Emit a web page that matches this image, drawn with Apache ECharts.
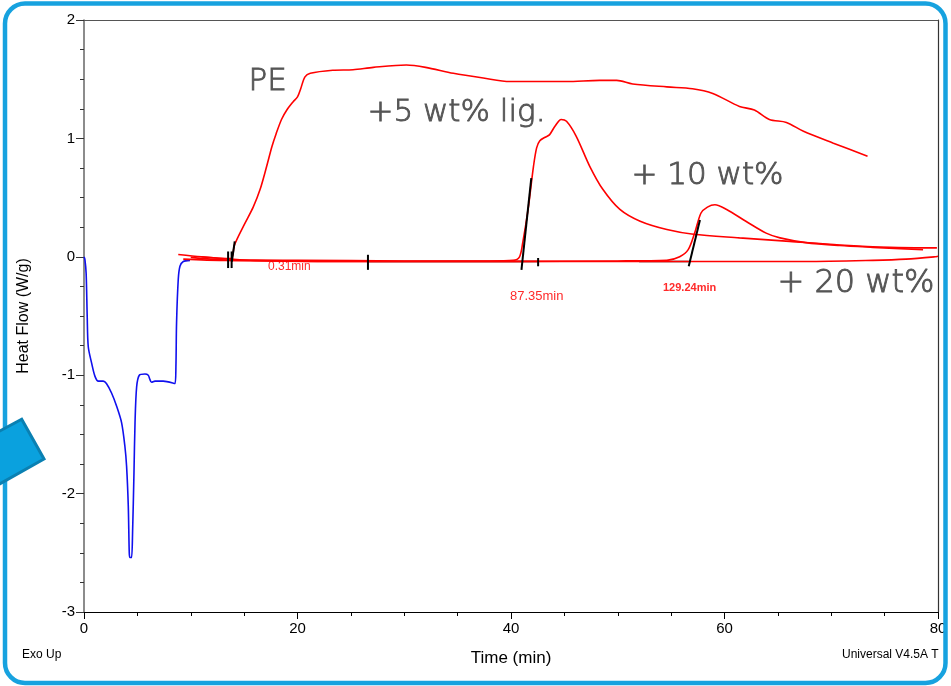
<!DOCTYPE html>
<html>
<head>
<meta charset="utf-8">
<script src="https://cdn.jsdelivr.net/npm/echarts@6/dist/echarts.min.js"></script>
<style>
html,body{margin:0;padding:0;background:#fff;}
#chart{width:951px;height:686px;}
</style>
</head>
<body>
<div id="chart"></div>
<script>
// ---- data (Time in min, Heat Flow in W/g) ----
var xTicks = [0, 20, 40, 60, 80];
var yTicks = [-3, -2, -1, 0, 1, 2];

var blueCurve = [[0,0],[0.08,-0.02],[0.2,-0.14],[0.3,-0.5],[0.4,-0.76],[0.72,-0.9],[1.03,-1.01],[1.34,-1.05],[1.8,-1.05],[2.1,-1.07],[2.58,-1.15],[3.05,-1.26],[3.52,-1.4],[3.83,-1.6],[3.99,-1.77],[4.15,-2.11],[4.24,-2.5],[4.3,-2.54],[4.45,-2.54],[4.55,-2.33],[4.68,-1.83],[4.78,-1.4],[4.93,-1.1],[5.18,-1.0],[5.71,-0.99],[6.02,-1.0],[6.15,-1.03],[6.33,-1.06],[6.65,-1.05],[7.42,-1.05],[8.52,-1.07],[8.61,-0.93],[8.67,-0.56],[8.83,-0.19],[8.99,-0.08],[9.3,-0.04],[9.93,-0.03]];

var peCurve = [[8.83,0.02],[11,0.0],[13.5,-0.015],[13.85,-0.01],[14.1,0.1],[15.0,0.27],[15.85,0.42],[16.5,0.57],[17.1,0.76],[17.6,0.93],[18.0,1.04],[18.5,1.16],[19.0,1.24],[19.6,1.31],[20.0,1.35],[20.3,1.42],[20.7,1.52],[21.2,1.55],[23.3,1.575],[25.2,1.58],[27.1,1.60],[30.2,1.62],[32.0,1.60],[34.6,1.55],[37.4,1.51],[39.9,1.48],[42.0,1.48],[45.2,1.48],[48.3,1.49],[49.9,1.49],[51.4,1.46],[54.6,1.435],[57.0,1.42],[58.9,1.38],[61.4,1.27],[62.8,1.24],[64.2,1.16],[65.8,1.135],[67.4,1.06],[70.2,0.96],[73.4,0.85]];

var lig5Curve = [[9.3,-0.02],[13,-0.03],[20,-0.03],[30,-0.035],[38,-0.035],[40.2,-0.03],[40.8,0.0],[41.1,0.12],[41.6,0.40],[42.1,0.76],[42.4,0.92],[42.7,0.98],[43.2,1.01],[43.6,1.03],[44.1,1.10],[44.7,1.16],[45.2,1.145],[46.1,1.02],[47.4,0.76],[48.6,0.57],[50.2,0.40],[52.1,0.30],[54.6,0.23],[57.1,0.19],[61.4,0.16],[66.1,0.13],[70.8,0.10],[75.5,0.08],[79.9,0.075]];

var lig10Curve = [[10,-0.005],[14,-0.03],[30,-0.04],[50,-0.035],[54.6,-0.03],[55.8,0.0],[56.6,0.06],[57.2,0.2],[57.8,0.37],[58.4,0.42],[59.1,0.44],[60.2,0.40],[62.0,0.30],[63.9,0.20],[65.2,0.16],[67.6,0.12],[70.8,0.095],[73.9,0.08],[78.6,0.06]];

var lig20Curve = [[11,0.0],[16,-0.03],[30,-0.04],[52,-0.04],[67.6,-0.04],[73.9,-0.03],[77,-0.02],[79.7,0.0],[80,0.005]];

var baselineSegments = [[[26.6,-0.04],[42.5,-0.04]], [[52,-0.04],[56.65,-0.04]]];
var tangentSegments = [[[13.85,-0.04],[14.12,0.13]], [[40.98,-0.11],[41.9,0.665]], [[56.65,-0.08],[57.7,0.31]]];
var tickMarks = [[[13.5,0.045],[13.5,-0.095]], [[13.83,0.045],[13.83,-0.095]], [[26.6,0.017],[26.6,-0.11]], [[42.54,-0.01],[42.54,-0.08]]];

var onsetLabels = ['0.31min', '87.35min', '129.24min'];
var curveLabels = ['PE', '+5 wt% lig.', '+ 10 wt%', '+ 20 wt%'];

// ---- chart ----
var chart = echarts.init(document.getElementById('chart'), null, {renderer: 'canvas'});

function seg(data, color, width, z) {
  return {type: 'line', data: data, symbol: 'none', silent: true, z: z,
    lineStyle: {color: color, width: width}, xAxisIndex: 0, yAxisIndex: 0};
}
function curve(data, color) {
  return {type: 'line', data: data, symbol: 'none', silent: true, smooth: 0.3, z: 3,
    lineStyle: {color: color, width: 1.6}, xAxisIndex: 0, yAxisIndex: 0};
}

var series = [];
baselineSegments.forEach(function (s) { series.push(seg(s, '#111', 1.6, 2)); });
series.push(curve(blueCurve, '#1010ee'));
series.push(curve(peCurve, '#ff0000'));
series.push(curve(lig5Curve, '#ff0000'));
series.push(curve(lig10Curve, '#ff0000'));
series.push(curve(lig20Curve, '#ff0000'));
tangentSegments.forEach(function (s) { series.push(seg(s, '#000', 2, 4)); });
tickMarks.forEach(function (s) { series.push(seg(s, '#000', 2, 4)); });

var tickFont = {color: '#000', fontSize: 15, fontFamily: 'Liberation Sans'};
function ann(text, left, top, size) {
  return {type: 'text', left: left, top: top, z: 10,
    style: {text: text, fill: '#555', fontSize: size, fontWeight: 300, fontFamily: 'DejaVu Sans',
      stroke: '#555', lineWidth: 0.9}};
}

var option = {
  animation: false,
  backgroundColor: '#fff',
  grid: {left: 84, right: 13, top: 20, bottom: 74, containLabel: false},
  xAxis: [{
    type: 'value', min: 0, max: 80, interval: 20,
    name: 'Time (min)', nameLocation: 'middle', nameGap: 38,
    nameTextStyle: {color: '#000', fontSize: 17, fontFamily: 'Liberation Sans'},
    axisLine: {show: true, onZero: false, lineStyle: {color: '#000', width: 1.2}},
    axisTick: {show: true, inside: false, length: 7, lineStyle: {color: '#000'}},
    minorTick: {show: true, splitNumber: 4, length: 4, lineStyle: {color: '#000'}},
    axisLabel: Object.assign({margin: 9, formatter: function (v) { return xTicks.indexOf(v) >= 0 ? String(v) : ''; }}, tickFont),
    splitLine: {show: false}
  }, {
    type: 'value', min: 0, max: 80, position: 'top',
    axisLine: {show: true, onZero: false, lineStyle: {color: '#555', width: 1.2}},
    axisTick: {show: false}, axisLabel: {show: false}, splitLine: {show: false}
  }],
  yAxis: [{
    type: 'value', min: -3, max: 2, interval: 1,
    name: 'Heat Flow (W/g)', nameLocation: 'middle', nameGap: 52, nameRotate: 90,
    nameTextStyle: {color: '#000', fontSize: 16, fontFamily: 'Liberation Sans'},
    axisLine: {show: true, onZero: false, lineStyle: {color: '#666', width: 1.5}},
    axisTick: {show: true, inside: false, length: 8, lineStyle: {color: '#333'}},
    minorTick: {show: true, splitNumber: 4, length: 4, lineStyle: {color: '#333'}},
    axisLabel: Object.assign({margin: 9, formatter: function (v) { return yTicks.indexOf(v) >= 0 ? String(v) : ''; }}, tickFont),
    splitLine: {show: false}
  }, {
    type: 'value', min: -3, max: 2, position: 'right',
    axisLine: {show: true, onZero: false, lineStyle: {color: '#333', width: 1.2}},
    axisTick: {show: false}, axisLabel: {show: false}, splitLine: {show: false}
  }],
  series: series,
  graphic: [
    {type: 'text', left: 268, top: 261, z: 2, style: {text: onsetLabels[0], fill: '#ff2a2a', fontSize: 12, fontFamily: 'Liberation Sans'}},
    {type: 'text', left: 510, top: 290, z: 10, style: {text: onsetLabels[1], fill: '#ff2a2a', fontSize: 13, fontFamily: 'Liberation Sans'}},
    {type: 'text', left: 663, top: 282, z: 10, style: {text: onsetLabels[2], fill: '#ff2a2a', fontSize: 11, fontWeight: 'bold', fontFamily: 'Liberation Sans'}},
    ann(curveLabels[0], 248, 66, 31),
    ann(curveLabels[1], 367, 97, 31),
    ann(curveLabels[2], 631, 160, 31),
    ann(curveLabels[3], 777, 267, 32),
    {type: 'text', left: 22, top: 649, z: 10, style: {text: 'Exo Up', fill: '#000', fontSize: 12, fontFamily: 'Liberation Sans'}},
    {type: 'text', left: 842, top: 649, z: 10, style: {text: 'Universal V4.5A T', fill: '#000', fontSize: 12, fontFamily: 'Liberation Sans'}},
    {type: 'rect', z: 20, shape: {x: 5, y: 3.5, width: 940.5, height: 679.5, r: 20},
      style: {fill: 'none', stroke: '#17a2df', lineWidth: 4.5}},
    {type: 'polygon', z: 21, shape: {points: [[-4, 433], [21.7, 419.3], [44, 459], [-4, 486]]},
      style: {fill: '#0aa1de', stroke: '#0a80b2', lineWidth: 3}}
  ]
};
chart.setOption(option);
</script>
</body>
</html>
